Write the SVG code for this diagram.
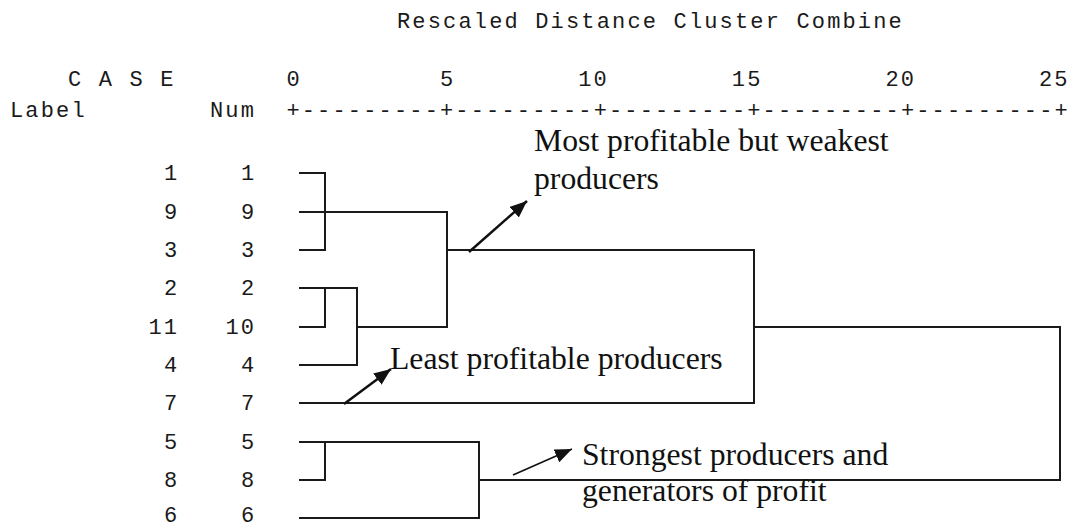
<svg xmlns="http://www.w3.org/2000/svg" width="1072" height="526" viewBox="0 0 1072 526">
  <style>
    .mono { font-family: "Liberation Mono", "DejaVu Sans Mono", monospace; font-size: 22px; letter-spacing: 2.16px; fill: #1a1a1a; }
    .serif { font-family: "Liberation Serif", "Times New Roman", serif; font-size: 31.7px; fill: #111; }
    .dg { fill: none; stroke: #1a1a1a; stroke-width: 2; stroke-linecap: square; stroke-linejoin: miter; }
    .arr { fill: none; stroke: #111; stroke-width: 2.5; }
  </style>
  <defs>
    <marker id="ah" markerUnits="userSpaceOnUse" markerWidth="18" markerHeight="14" refX="17" refY="7" orient="auto">
      <path d="M0,0 L17,7 L0,14 z" fill="#111"/>
    </marker>
  </defs>
  <rect width="1072" height="526" fill="#fff"/>

  <g id="header">
    <text class="mono" x="397" y="28">Rescaled Distance Cluster Combine</text>
    <text class="mono" x="68" y="86">C A S E</text>
    <text class="mono" x="286.4" y="86">0</text>
    <text class="mono" x="440" y="86">5</text>
    <text class="mono" x="578.2" y="86">10</text>
    <text class="mono" x="731.8" y="86">15</text>
    <text class="mono" x="885.4" y="86">20</text>
    <text class="mono" x="1039" y="86">25</text>
    <text class="mono" x="10" y="117">Label</text>
    <text class="mono" x="210" y="117">Num</text>
    <text class="mono" x="286.4" y="117">+---------+---------+---------+---------+---------+</text>
  </g>

  <g id="cases">
    <g id="case-1"><text class="mono" x="163.9" y="180">1</text><text class="mono" x="240.9" y="180">1</text></g>
    <g id="case-9"><text class="mono" x="163.9" y="219">9</text><text class="mono" x="240.9" y="219">9</text></g>
    <g id="case-3"><text class="mono" x="163.9" y="257">3</text><text class="mono" x="240.9" y="257">3</text></g>
    <g id="case-2"><text class="mono" x="163.9" y="295">2</text><text class="mono" x="240.9" y="295">2</text></g>
    <g id="case-11"><text class="mono" x="148.5" y="334">11</text><text class="mono" x="225.5" y="334">10</text></g>
    <g id="case-4"><text class="mono" x="163.9" y="372">4</text><text class="mono" x="240.9" y="372">4</text></g>
    <g id="case-7"><text class="mono" x="163.9" y="410">7</text><text class="mono" x="240.9" y="410">7</text></g>
    <g id="case-5"><text class="mono" x="163.9" y="449">5</text><text class="mono" x="240.9" y="449">5</text></g>
    <g id="case-8"><text class="mono" x="163.9" y="487">8</text><text class="mono" x="240.9" y="487">8</text></g>
    <g id="case-6"><text class="mono" x="163.9" y="522">6</text><text class="mono" x="240.9" y="522">6</text></g>
  </g>

  <g id="connectors">
    <path class="dg" d="M300,173 H325 V250 H300"/>
    <path class="dg" d="M300,212 H447 V327 H357"/>
    <path class="dg" d="M300,288 H357 V365 H300"/>
    <path class="dg" d="M300,327 H325 V288"/>
    <path class="dg" d="M447,250 H754 V403 H300"/>
    <path class="dg" d="M754,327 H1060 V480 H479"/>
    <path class="dg" d="M300,442 H479 V518 H300"/>
    <path class="dg" d="M300,480 H325 V442"/>
  </g>

  <g id="annotations">
    <g id="label-most">
      <text class="serif" x="534" y="151">Most profitable but weakest</text>
      <text class="serif" x="534" y="189">producers</text>
      <line class="arr" x1="469" y1="252" x2="527" y2="201" marker-end="url(#ah)"/>
    </g>
    <g id="label-least">
      <text class="serif" x="390" y="369">Least profitable producers</text>
      <line class="arr" x1="344" y1="404" x2="391" y2="369" marker-end="url(#ah)"/>
    </g>
    <g id="label-strongest">
      <text class="serif" x="582" y="465">Strongest producers and</text>
      <text class="serif" x="582" y="501">generators of profit</text>
      <line class="arr" style="stroke-width:1.6" x1="513" y1="475" x2="572" y2="449" marker-end="url(#ah)"/>
    </g>
  </g>
</svg>
